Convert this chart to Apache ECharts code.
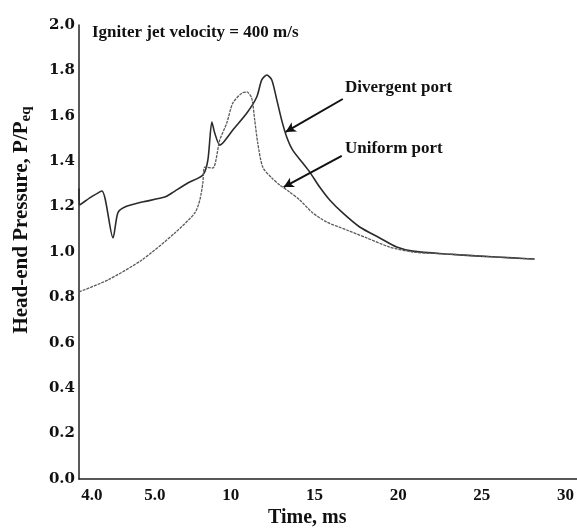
<!DOCTYPE html>
<html>
<head>
<meta charset="utf-8">
<script src="https://cdn.jsdelivr.net/npm/echarts@6/dist/echarts.min.js"></script>
<style>html,body{margin:0;padding:0;background:#fff}#c{width:577px;height:531px}</style>
</head>
<body>
<div id="c"></div>
<script>
// Time (ms) and head-end pressure P/Peq
const timeDivergent = [0.93, 0.95, 1.76, 2.30, 2.96, 3.25, 3.67, 4.69, 6.06, 6.48, 7.43, 8.33, 8.63, 8.87, 9.04, 9.34, 9.52, 10.12, 10.96, 11.55, 11.85, 12.15, 12.45, 12.75, 13.04, 13.34, 13.70, 14.30, 14.72, 15.31, 15.91, 16.69, 17.70, 18.90, 19.91, 20.87, 22.90, 24.87, 26.84, 28.15];
const pressureDivergent = [1.28, 1.207, 1.247, 1.269, 1.062, 1.172, 1.198, 1.220, 1.242, 1.260, 1.304, 1.339, 1.405, 1.573, 1.524, 1.471, 1.480, 1.537, 1.612, 1.683, 1.758, 1.780, 1.758, 1.670, 1.581, 1.507, 1.449, 1.392, 1.352, 1.286, 1.229, 1.172, 1.110, 1.062, 1.022, 1.004, 0.991, 0.982, 0.974, 0.969];

const timeUniform = [0.93, 2.66, 4.69, 6.66, 7.85, 8.15, 8.33, 8.45, 8.93, 9.34, 9.76, 10.12, 10.66, 10.96, 11.25, 11.43, 11.61, 11.91, 12.45, 12.93, 13.52, 14.12, 14.90, 15.73, 16.93, 18.12, 19.49, 20.87, 22.90, 24.87, 26.84, 28.15];
const pressureUniform = [0.824, 0.877, 0.965, 1.084, 1.172, 1.229, 1.304, 1.374, 1.370, 1.493, 1.568, 1.656, 1.700, 1.705, 1.678, 1.581, 1.480, 1.374, 1.326, 1.295, 1.264, 1.229, 1.172, 1.132, 1.097, 1.062, 1.022, 1.000, 0.991, 0.982, 0.974, 0.969];

// x tick labels as printed, and where they sit on the time scale
const xTickValues = [1.70, 5.46, 10, 15, 20, 25, 30];
const xTickLabels = ['4.0', '5.0', '10', '15', '20', '25', '30'];

// arrow annotations: [tail, tip] in data units
const arrowDivergent = [[16.69, 1.674], [13.28, 1.529]];
const arrowUniform = [[16.63, 1.423], [13.16, 1.286]];

const zip = (xs, ys) => xs.map((x, i) => [x, ys[i]]);
const SERIF = '"Liberation Serif", "Times New Roman", serif';
const WIDE_SERIF = '"DejaVu Serif", serif';

const chart = echarts.init(document.getElementById('c'), null, {renderer: 'canvas'});
chart.setOption({
  animation: false,
  backgroundColor: '#fff',
  grid: {left: 79, right: 0, top: 25, bottom: 52, containLabel: false},
  xAxis: {
    type: 'value', min: 0.93, max: 30.66,
    axisLine: {show: true, lineStyle: {color: '#222', width: 1.5}},
    axisTick: {show: false},
    splitLine: {show: false},
    axisLabel: {
      customValues: xTickValues,
      formatter: v => {
        let best = 0;
        xTickValues.forEach((t, i) => { if (Math.abs(t - v) < Math.abs(xTickValues[best] - v)) best = i; });
        return xTickLabels[best];
      },
      margin: 8, color: '#111', fontFamily: SERIF, fontWeight: 'bold', fontSize: 17
    }
  },
  yAxis: {
    type: 'value', min: 0, max: 2.0, interval: 0.2,
    axisLine: {show: true, lineStyle: {color: '#222', width: 1.5}},
    axisTick: {show: false},
    splitLine: {show: false},
    axisLabel: {
      formatter: v => v.toFixed(1),
      margin: 4, color: '#111', fontFamily: WIDE_SERIF, fontWeight: 'bold', fontSize: 15
    }
  },
  series: [
    {
      name: 'Divergent port', type: 'line', data: zip(timeDivergent, pressureDivergent),
      showSymbol: false, smooth: 0.25,
      lineStyle: {color: '#2b2b2b', width: 1.6},
      markLine: {
        silent: true, symbol: ['none', 'arrow'], symbolSize: [8, 10],
        label: {show: false},
        lineStyle: {color: '#111', width: 2, type: 'solid'},
        data: [
          [{coord: arrowDivergent[0]}, {coord: arrowDivergent[1]}],
          [{coord: arrowUniform[0]}, {coord: arrowUniform[1]}]
        ]
      }
    },
    {
      name: 'Uniform port', type: 'line', data: zip(timeUniform, pressureUniform),
      showSymbol: false, smooth: 0.25,
      lineStyle: {color: '#5a5a5a', width: 1.3, type: [3, 1]}
    }
  ],
  graphic: [
    {type: 'text', left: 92, top: 24, style: {text: 'Igniter jet velocity = 400 m/s', font: 'bold 17px ' + SERIF, fill: '#111'}},
    {type: 'text', left: 345, top: 79, style: {text: 'Divergent port', font: 'bold 17px ' + SERIF, fill: '#111'}},
    {type: 'text', left: 345, top: 140, style: {text: 'Uniform port', font: 'bold 17px ' + SERIF, fill: '#111'}},
    {type: 'text', left: 268, top: 508, style: {text: 'Time, ms', font: 'bold 20px ' + SERIF, fill: '#111'}},
    {
      type: 'text', x: 22, y: 220, rotation: Math.PI / 2,
      style: {
        text: '{a|Head-end Pressure, P/P}{s|eq}',
        align: 'center', verticalAlign: 'middle',
        rich: {
          a: {font: 'bold 21px ' + SERIF, fill: '#111'},
          s: {font: 'bold 15px ' + SERIF, fill: '#111', padding: [8, 0, 0, 0]}
        }
      }
    }
  ]
});
</script>
</body>
</html>
